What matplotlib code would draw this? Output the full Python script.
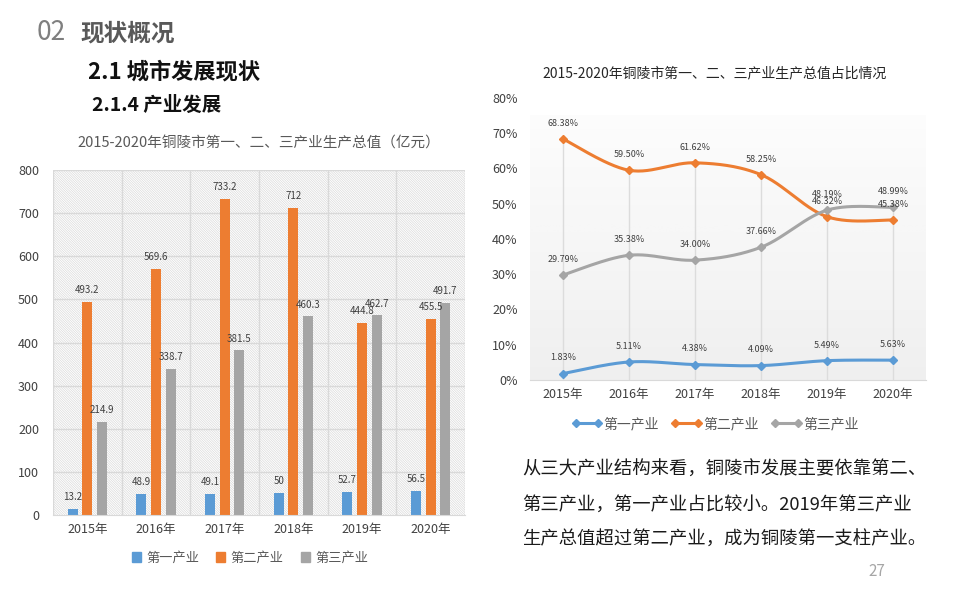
import matplotlib
matplotlib.use('Agg')
import matplotlib.pyplot as plt
import numpy as np
from matplotlib.lines import Line2D
from matplotlib.patches import Rectangle

plt.rcParams['font.family'] = ['Noto Sans CJK SC', 'DejaVu Sans']
plt.rcParams['hatch.linewidth'] = 0.5
plt.rcParams['hatch.color'] = '#dadada'

years = ['2015年', '2016年', '2017年', '2018年', '2019年', '2020年']
series_names = ['第一产业', '第二产业', '第三产业']
colors = ['#5B9BD5', '#ED7D31', '#A5A5A5']

# 生产总值（亿元）
gdp_first = [13.2, 48.9, 49.1, 50, 52.7, 56.5]
gdp_second = [493.2, 569.6, 733.2, 712, 444.8, 455.5]
gdp_third = [214.9, 338.7, 381.5, 460.3, 462.7, 491.7]

# 占比（%）
share_first = [1.83, 5.11, 4.38, 4.09, 5.49, 5.63]
share_second = [68.38, 59.50, 61.62, 58.25, 46.32, 45.38]
share_third = [29.79, 35.38, 34.00, 37.66, 48.19, 48.99]

paragraph = ['从三大产业结构来看，铜陵市发展主要依靠第二、',
             '第三产业，第一产业占比较小。2019年第三产业',
             '生产总值超过第二产业，成为铜陵第一支柱产业。']


def smooth_curve(x, y, steps=30):
    """Catmull-Rom style smoothing, like Excel's smoothed line"""
    pts = np.column_stack([x, y]).astype(float)
    pts = np.vstack([pts[0], pts, pts[-1]])
    out = []
    for i in range(1, len(pts) - 2):
        p0, p1, p2, p3 = pts[i - 1], pts[i], pts[i + 1], pts[i + 2]
        c1 = p1 + (p2 - p0) / 6
        c2 = p2 - (p3 - p1) / 6
        t = np.linspace(0, 1, steps)[:, None]
        seg = (1 - t) ** 3 * p1 + 3 * (1 - t) ** 2 * t * c1 + 3 * (1 - t) * t ** 2 * c2 + t ** 3 * p2
        out.append(seg if i == 1 else seg[1:])
    out = np.vstack(out)
    return out[:, 0], out[:, 1]


fig = plt.figure(figsize=(9.6, 6), dpi=100)

# header
fig.text(37 / 960, 1 - 33 / 600, '02', fontsize=19, color='#7f7f7f', va='center', fontweight='light')
fig.text(80 / 960, 1 - 33 / 600, '现状概况', fontsize=17, color='#595959', va='center', fontweight='bold')
fig.text(88 / 960, 1 - 72 / 600, '2.1 城市发展现状', fontsize=16, color='#111111', va='center', fontweight='bold')
fig.text(92 / 960, 1 - 105 / 600, '2.1.4 产业发展', fontsize=14, color='#111111', va='center', fontweight='bold')

# ---- bar chart ----
ax = fig.add_axes([53 / 960, 1 - 515 / 600, 412 / 960, 345 / 600])
x = np.arange(len(years))
ax.set_xlim(-0.5, len(years) - 0.5)
ax.set_ylim(0, 800)
ax.add_patch(Rectangle((-0.5, 0), len(years), 800, facecolor='white', hatch='\\' * 14,
                       edgecolor='#dadada', linewidth=0, zorder=0))
for v in range(100, 801, 100):
    ax.axhline(v, color='#d9d9d9', lw=1, zorder=1)
for b in np.arange(-0.5, len(years), 1):
    ax.axvline(b, color='#d9d9d9', lw=1, zorder=1)

width = 0.146
offsets = [-0.214, 0, 0.214]
for vals, off, c in zip([gdp_first, gdp_second, gdp_third], offsets, colors):
    bars = ax.bar(x + off, vals, width=width, color=c, zorder=2)
    for rect, v in zip(bars, vals):
        ax.annotate(f'{v:g}', (rect.get_x() + rect.get_width() / 2, v), xytext=(0, 5),
                    textcoords='offset points', ha='center', va='bottom', fontsize=7, color='#404040')

ax.set_xticks(x)
ax.set_xticklabels(years, fontsize=9, color='#404040')
ax.set_yticks(range(0, 801, 100))
ax.tick_params(axis='y', labelsize=9, colors='#404040', length=0, pad=10)
ax.tick_params(axis='x', length=0, pad=6)
for s in ['top', 'right', 'left']:
    ax.spines[s].set_visible(False)
ax.spines['bottom'].set_color('#d9d9d9')
ax.set_title('2015-2020年铜陵市第一、二、三产业生产总值（亿元）', fontsize=10.5, color='#595959',
             pad=16, fontweight='light')
bar_handles = [Rectangle((0, 0), 1, 1, color=c) for c in colors]
fig.legend(bar_handles, series_names, loc='center', bbox_to_anchor=(250 / 960, 1 - 558 / 600),
           ncol=3, frameon=False, fontsize=9.5, handlelength=0.7, handleheight=0.7,
           columnspacing=1.3, handletextpad=0.4, labelcolor='#595959')

# ---- line chart ----
ax2 = fig.add_axes([530 / 960, 1 - 380 / 600, 396 / 960, 282 / 600])
ax2.set_xlim(-0.5, len(years) - 0.5)
ax2.set_ylim(0, 80)
grad = np.linspace(0, 1, 200)[:, None]
ax2.imshow(grad, extent=[-0.5, len(years) - 0.5, 0, 75], aspect='auto', cmap='Greys',
           vmin=-0.2, vmax=9, zorder=0, origin='upper')
shares = [share_first, share_second, share_third]
tops = np.max(np.array(shares), axis=0)
ax2.vlines(x, 0, tops, color='#dcdcdc', lw=1, zorder=1)
for vals, c in zip(shares, colors):
    sx, sy = smooth_curve(x, vals)
    ax2.plot(sx, sy, color=c, lw=2.2, zorder=3)
    ax2.plot(x, vals, 'D', color=c, ms=4.5, zorder=4)
    for xi, v in zip(x, vals):
        ax2.annotate(f'{v:.2f}%', (xi, v), xytext=(0, 8), textcoords='offset points',
                     ha='center', va='bottom', fontsize=6.5, color='#404040', zorder=5)

ax2.set_xticks(x)
ax2.set_xticklabels(years, fontsize=9, color='#404040')
ax2.set_yticks(range(0, 81, 10))
ax2.set_yticklabels([f'{v}%' for v in range(0, 81, 10)])
ax2.tick_params(axis='y', labelsize=9, colors='#404040', length=0, pad=9)
ax2.tick_params(axis='x', length=0, pad=6)
for s in ['top', 'right', 'left']:
    ax2.spines[s].set_visible(False)
ax2.spines['bottom'].set_color('#d9d9d9')
fig.text(715 / 960, 1 - 73 / 600, '2015-2020年铜陵市第一、二、三产业生产总值占比情况',
         fontsize=10, color='#262626', ha='center', va='center')
line_handles = [Line2D([0], [0], color=c, lw=2.2, marker='D', ms=4.5) for c in colors]
fig.legend(line_handles, series_names, loc='center', bbox_to_anchor=(715 / 960, 1 - 424 / 600),
           ncol=3, frameon=False, fontsize=10, handlelength=2.2, columnspacing=0.9,
           handletextpad=0.1, labelcolor='#595959', numpoints=2)

# paragraph
for i, line in enumerate(paragraph):
    fig.text(522 / 960, 1 - (470 + 35 * i) / 600, line, fontsize=13.2, color='#1a1a1a',
             va='center', fontweight='medium')

fig.text(877 / 960, 1 - 572 / 600, '27', fontsize=11, color='#a6a6a6', ha='center', va='center')

fig.savefig('out.png', dpi=100)
